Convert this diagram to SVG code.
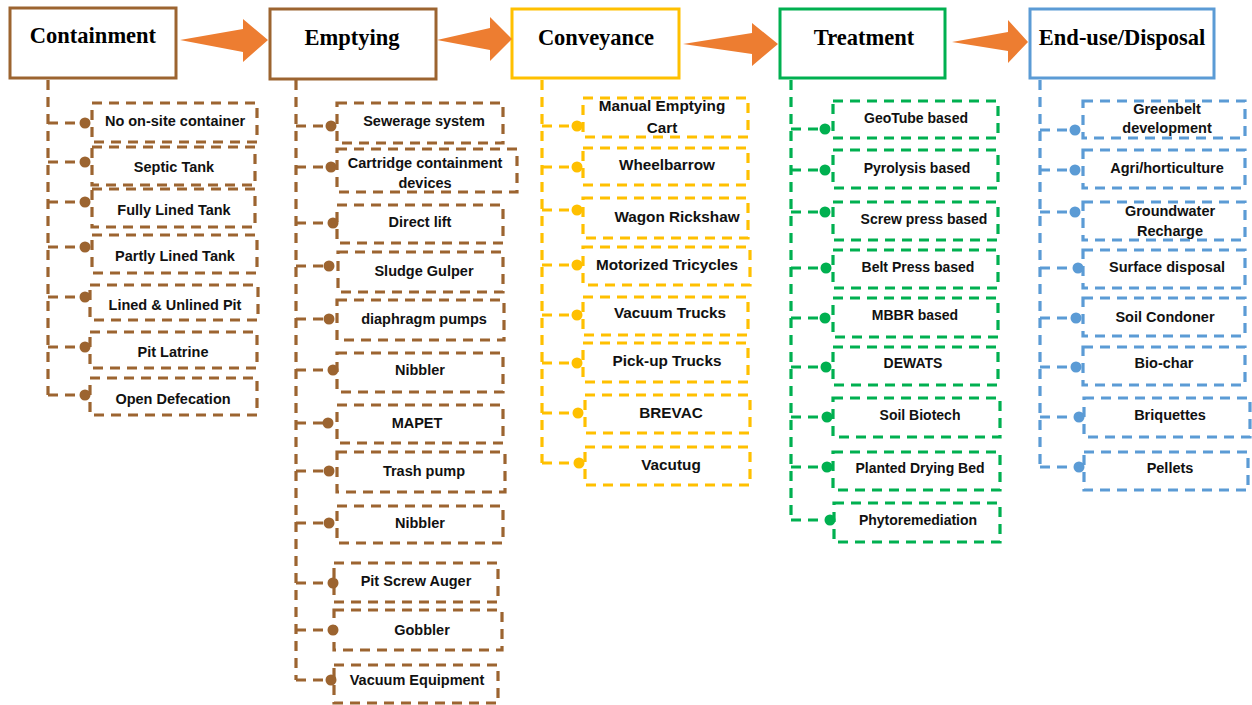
<svg xmlns="http://www.w3.org/2000/svg" width="1252" height="705" viewBox="0 0 1252 705">
<style>
.hdr{fill:#fff;stroke-width:3}
.ht{font-family:"Liberation Serif",serif;font-weight:bold;font-size:22.5px;text-anchor:middle;fill:#000}
.box{fill:none;stroke-width:3.2;stroke-dasharray:10 7}
.t{font-family:"Liberation Sans",Arial,sans-serif;font-weight:bold;font-size:14.5px;text-anchor:middle;fill:#111}
.ty{font-size:15.3px}
.tg{font-size:14px}
.ln{fill:none;stroke-width:3.2;stroke-dasharray:10 7}
.br{stroke:#9C6430}
.ye{stroke:#FFC000}
.gr{stroke:#00B050}
.bl{stroke:#5B9BD5}
.dbr{fill:#9C6430}
.dye{fill:#FFC000}
.dgr{fill:#00B050}
.dbl{fill:#5B9BD5}
.arr{fill:#ED7D31}
circle{r:5.5px}
</style>
<rect width="1252" height="705" fill="#fff"/>

<g id="stages">
<g id="containment"><rect class="hdr br" x="10" y="8" width="166" height="70"/><text class="ht" x="93" y="43">Containment</text></g>
<g id="emptying"><rect class="hdr br" x="270" y="9" width="166" height="70"/><text class="ht" x="352" y="45">Emptying</text></g>
<g id="conveyance"><rect class="hdr ye" x="512" y="9" width="167" height="69"/><text class="ht" x="596" y="45">Conveyance</text></g>
<g id="treatment"><rect class="hdr gr" x="780" y="9" width="165" height="69"/><text class="ht" x="864" y="45">Treatment</text></g>
<g id="enduse"><rect class="hdr bl" x="1030" y="9" width="184" height="69"/><text class="ht" x="1122" y="45">End-use/Disposal</text></g>
</g>

<g id="flow-arrows">
<polygon class="arr" points="180,40 243,29 243,19 268,40 243,62 243,52"/>
<polygon class="arr" points="437,40 490,28 490,17 512,39 490,61 490,50"/>
<polygon class="arr" points="683,44 752,33 752,23 778,44 752,66 752,54"/>
<polygon class="arr" points="952,42 1008,32 1008,20 1028,42 1008,63 1008,51"/>
</g>

<g id="connectors">
<path class="ln br" d="M48,80V395 M48,123H85 M48,162H85 M48,202H85 M48,247H85 M48,297H85 M48,347H85 M48,395H85"/>
<g class="dbr"><circle cx="85" cy="123" r="5.5"/><circle cx="85" cy="162" r="5.5"/><circle cx="85" cy="202" r="5.5"/><circle cx="85" cy="247" r="5.5"/><circle cx="85" cy="297" r="5.5"/><circle cx="85" cy="347" r="5.5"/><circle cx="85" cy="395" r="5.5"/></g>
<path class="ln br" d="M296,80V680 M296,126H331 M296,167H331 M296,223H333 M296,266H329 M296,319H329 M296,370H333 M296,423H328 M296,471H329 M296,523H329 M296,583H333 M296,630H333 M296,680H331"/>
<g class="dbr"><circle cx="331" cy="126" r="5.5"/><circle cx="331" cy="167" r="5.5"/><circle cx="333" cy="223" r="5.5"/><circle cx="329" cy="266" r="5.5"/><circle cx="329" cy="319" r="5.5"/><circle cx="333" cy="370" r="5.5"/><circle cx="328" cy="423" r="5.5"/><circle cx="329" cy="471" r="5.5"/><circle cx="329" cy="523" r="5.5"/><circle cx="333" cy="583" r="5.5"/><circle cx="333" cy="630" r="5.5"/><circle cx="331" cy="680" r="5.5"/></g>
<path class="ln ye" d="M542,80V463 M542,126H577 M542,167H577 M542,210H577 M542,265H577 M542,315H577 M542,363H577 M542,413H578 M542,463H579"/>
<g class="dye"><circle cx="577" cy="126" r="5.5"/><circle cx="577" cy="167" r="5.5"/><circle cx="577" cy="210" r="5.5"/><circle cx="577" cy="265" r="5.5"/><circle cx="577" cy="315" r="5.5"/><circle cx="577" cy="363" r="5.5"/><circle cx="578" cy="413" r="5.5"/><circle cx="579" cy="463" r="5.5"/></g>
<path class="ln gr" d="M791,80V520 M791,129H825 M791,170H825 M791,212H825 M791,268H826 M791,318H825 M791,367H826 M791,417H827 M791,467H827 M791,520H830"/>
<g class="dgr"><circle cx="825" cy="129" r="5.5"/><circle cx="825" cy="170" r="5.5"/><circle cx="825" cy="212" r="5.5"/><circle cx="826" cy="268" r="5.5"/><circle cx="825" cy="318" r="5.5"/><circle cx="826" cy="367" r="5.5"/><circle cx="827" cy="417" r="5.5"/><circle cx="827" cy="467" r="5.5"/><circle cx="830" cy="520" r="5.5"/></g>
<path class="ln bl" d="M1040,80V467 M1040,130H1075 M1040,170H1075 M1040,212H1075 M1040,268H1078 M1040,318H1076 M1040,367H1076 M1040,417H1079 M1040,467H1079"/>
<g class="dbl"><circle cx="1075" cy="130" r="5.5"/><circle cx="1075" cy="170" r="5.5"/><circle cx="1075" cy="212" r="5.5"/><circle cx="1078" cy="268" r="5.5"/><circle cx="1076" cy="318" r="5.5"/><circle cx="1076" cy="367" r="5.5"/><circle cx="1079" cy="417" r="5.5"/><circle cx="1079" cy="467" r="5.5"/></g>
</g>

<g id="containment-items">
<g id="c1"><rect class="box br" x="92" y="103" width="165" height="39"/><text class="t" x="175" y="126">No on-site container</text></g>
<g id="c2"><rect class="box br" x="92" y="147" width="163" height="38"/><text class="t" x="174" y="172">Septic Tank</text></g>
<g id="c3"><rect class="box br" x="92" y="189" width="163" height="38"/><text class="t" x="174" y="215">Fully Lined Tank</text></g>
<g id="c4"><rect class="box br" x="92" y="235" width="165" height="38"/><text class="t" x="175" y="261">Partly Lined Tank</text></g>
<g id="c5"><rect class="box br" x="90" y="285" width="168" height="35"/><text class="t" x="175" y="310">Lined &amp; Unlined Pit</text></g>
<g id="c6"><rect class="box br" x="90" y="332" width="167" height="36"/><text class="t" x="173" y="357">Pit Latrine</text></g>
<g id="c7"><rect class="box br" x="90" y="378" width="167" height="37"/><text class="t" x="173" y="404">Open Defecation</text></g>
</g>

<g id="emptying-items">
<g id="e1"><rect class="box br" x="337" y="103" width="166" height="40"/><text class="t" x="424" y="126">Sewerage system</text></g>
<g id="e2"><rect class="box br" x="337" y="149" width="180" height="43"/><text class="t" x="425" y="168">Cartridge containment</text><text class="t" x="425" y="188">devices</text></g>
<g id="e3"><rect class="box br" x="337" y="205" width="166" height="38"/><text class="t" x="420" y="227">Direct lift</text></g>
<g id="e4"><rect class="box br" x="338" y="252" width="165" height="40"/><text class="t" x="424" y="276">Sludge Gulper</text></g>
<g id="e5"><rect class="box br" x="337" y="300" width="167" height="40"/><text class="t" x="424" y="324">diaphragm pumps</text></g>
<g id="e6"><rect class="box br" x="337" y="353" width="166" height="39"/><text class="t" x="420" y="375">Nibbler</text></g>
<g id="e7"><rect class="box br" x="337" y="405" width="166" height="38"/><text class="t" x="417" y="428">MAPET</text></g>
<g id="e8"><rect class="box br" x="337" y="452" width="168" height="40"/><text class="t" x="424" y="476">Trash pump</text></g>
<g id="e9"><rect class="box br" x="337" y="506" width="166" height="37"/><text class="t" x="420" y="528">Nibbler</text></g>
<g id="e10"><rect class="box br" x="334" y="563" width="164" height="39"/><text class="t" x="416" y="586">Pit Screw Auger</text></g>
<g id="e11"><rect class="box br" x="334" y="610" width="168" height="40"/><text class="t" x="422" y="635">Gobbler</text></g>
<g id="e12"><rect class="box br" x="334" y="665" width="164" height="38"/><text class="t" x="417" y="685">Vacuum Equipment</text></g>
</g>

<g id="conveyance-items">
<g id="v1"><rect class="box ye" x="583" y="98" width="165" height="39"/><text class="t ty" x="662" y="111">Manual Emptying</text><text class="t ty" x="662" y="133">Cart</text></g>
<g id="v2"><rect class="box ye" x="583" y="148" width="165" height="37"/><text class="t ty" x="667" y="170">Wheelbarrow</text></g>
<g id="v3"><rect class="box ye" x="583" y="198" width="165" height="40"/><text class="t ty" x="677" y="222">Wagon Rickshaw</text></g>
<g id="v4"><rect class="box ye" x="583" y="247" width="167" height="38"/><text class="t ty" x="667" y="270">Motorized Tricycles</text></g>
<g id="v5"><rect class="box ye" x="583" y="297" width="165" height="38"/><text class="t ty" x="670" y="318">Vacuum Trucks</text></g>
<g id="v6"><rect class="box ye" x="583" y="343" width="165" height="39"/><text class="t ty" x="667" y="366">Pick-up Trucks</text></g>
<g id="v7"><rect class="box ye" x="585" y="395" width="165" height="38"/><text class="t ty" x="671" y="418">BREVAC</text></g>
<g id="v8"><rect class="box ye" x="585" y="447" width="165" height="38"/><text class="t ty" x="671" y="470">Vacutug</text></g>
</g>

<g id="treatment-items">
<g id="t1"><rect class="box gr" x="833" y="101" width="165" height="37"/><text class="t tg" x="916" y="123">GeoTube based</text></g>
<g id="t2"><rect class="box gr" x="833" y="150" width="165" height="38"/><text class="t tg" x="917" y="173">Pyrolysis based</text></g>
<g id="t3"><rect class="box gr" x="833" y="202" width="165" height="38"/><text class="t tg" x="924" y="224">Screw press based</text></g>
<g id="t4"><rect class="box gr" x="833" y="250" width="165" height="38"/><text class="t tg" x="918" y="272">Belt Press based</text></g>
<g id="t5"><rect class="box gr" x="833" y="298" width="165" height="39"/><text class="t tg" x="915" y="320">MBBR based</text></g>
<g id="t6"><rect class="box gr" x="833" y="347" width="165" height="38"/><text class="t tg" x="913" y="368">DEWATS</text></g>
<g id="t7"><rect class="box gr" x="833" y="398" width="167" height="39"/><text class="t tg" x="920" y="420">Soil Biotech</text></g>
<g id="t8"><rect class="box gr" x="833" y="452" width="167" height="38"/><text class="t tg" x="920" y="473">Planted Drying Bed</text></g>
<g id="t9"><rect class="box gr" x="834" y="503" width="166" height="39"/><text class="t tg" x="918" y="525">Phytoremediation</text></g>
</g>

<g id="enduse-items">
<g id="u1"><rect class="box bl" x="1083" y="101" width="162" height="37"/><text class="t" x="1167" y="114">Greenbelt</text><text class="t" x="1167" y="133">development</text></g>
<g id="u2"><rect class="box bl" x="1083" y="150" width="162" height="38"/><text class="t" x="1167" y="173">Agri/horticulture</text></g>
<g id="u3"><rect class="box bl" x="1083" y="202" width="162" height="38"/><text class="t" x="1170" y="216">Groundwater</text><text class="t" x="1170" y="236">Recharge</text></g>
<g id="u4"><rect class="box bl" x="1083" y="250" width="162" height="38"/><text class="t" x="1167" y="272">Surface disposal</text></g>
<g id="u5"><rect class="box bl" x="1083" y="298" width="162" height="38"/><text class="t" x="1165" y="322">Soil Condoner</text></g>
<g id="u6"><rect class="box bl" x="1083" y="347" width="162" height="38"/><text class="t" x="1164" y="368">Bio-char</text></g>
<g id="u7"><rect class="box bl" x="1084" y="398" width="166" height="39"/><text class="t" x="1170" y="420">Briquettes</text></g>
<g id="u8"><rect class="box bl" x="1084" y="452" width="164" height="38"/><text class="t" x="1170" y="473">Pellets</text></g>
</g>
</svg>
